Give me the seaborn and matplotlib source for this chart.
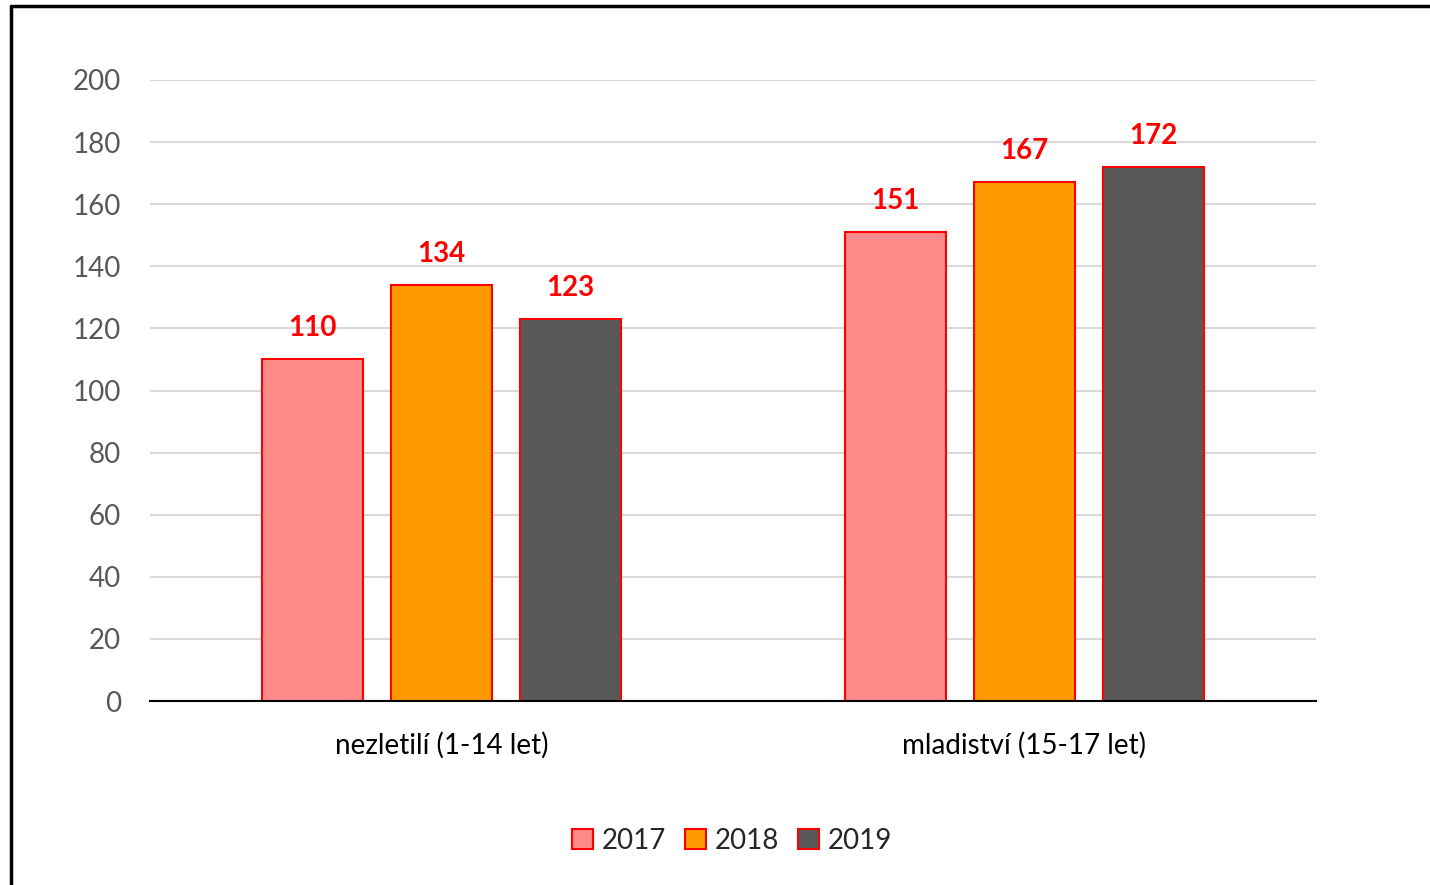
import numpy as np
import pandas as pd
import matplotlib.pyplot as plt
import seaborn as sns
from matplotlib.lines import Line2D

categories = ['nezletilí (1-14 let)', 'mladiství (15-17 let)']
years = ['2017', '2018', '2019']
values_2017 = [110, 151]
values_2018 = [134, 167]
values_2019 = [123, 172]
yticks = [0, 20, 40, 60, 80, 100, 120, 140, 160, 180, 200]

colors = ['#FF8A8A', '#FF9900', '#595959']

df = pd.DataFrame({
    'kategorie': categories * 3,
    'rok': [y for y in years for _ in categories],
    'pocet': values_2017 + values_2018 + values_2019,
})

sns.set_style('white')
plt.rcParams['font.family'] = ['Lato', 'DejaVu Sans']

fig = plt.figure(figsize=(14.3, 8.85), dpi=100)
ax = fig.add_axes([150 / 1430, 1 - 701 / 885, 1166 / 1430, 621 / 885])

sns.barplot(data=df, x='kategorie', y='pocet', hue='rok', palette=colors,
            saturation=1, width=0.665, gap=0.22, edgecolor='#FF0000', linewidth=1.5,
            ax=ax, legend=False)

for cont in ax.containers:
    ax.bar_label(cont, padding=13, color='#FF0000', fontsize=20, fontweight='bold')

ax.set_ylim(0, 200)
ax.set_xlim(-0.5, 1.5)
ax.set_yticks(yticks)
ax.yaxis.grid(True, color='#D9D9D9', linewidth=1.5)
ax.set_axisbelow(True)
for s in ['left', 'right', 'top']:
    ax.spines[s].set_visible(False)
ax.spines['bottom'].set_color('#000000')
ax.spines['bottom'].set_linewidth(1.5)
ax.tick_params(axis='y', labelsize=20, labelcolor='#595959', length=0, pad=21)
ax.tick_params(axis='x', labelsize=20, labelcolor='#000000', length=0, pad=22)
ax.set_xlabel('')
ax.set_ylabel('')

handles = [plt.Rectangle((0, 0), 1, 1, facecolor=c, edgecolor='#FF0000', linewidth=1.5)
           for c in colors]
fig.legend(handles, years, loc='center', bbox_to_anchor=(0.512, 1 - 841 / 885),
           ncol=3, frameon=False, fontsize=20, handlelength=0.75, handleheight=0.75,
           handletextpad=0.3, columnspacing=0.7)

# chart frame (left and top edges visible)
fig.add_artist(Line2D([11 / 1430, 11 / 1430], [0, 1 - 6 / 885], color='black', linewidth=2.5,
                      transform=fig.transFigure))
fig.add_artist(Line2D([11 / 1430, 1], [1 - 6 / 885, 1 - 6 / 885], color='black', linewidth=2.5,
                      transform=fig.transFigure))

fig.savefig('out.png', dpi=100)
